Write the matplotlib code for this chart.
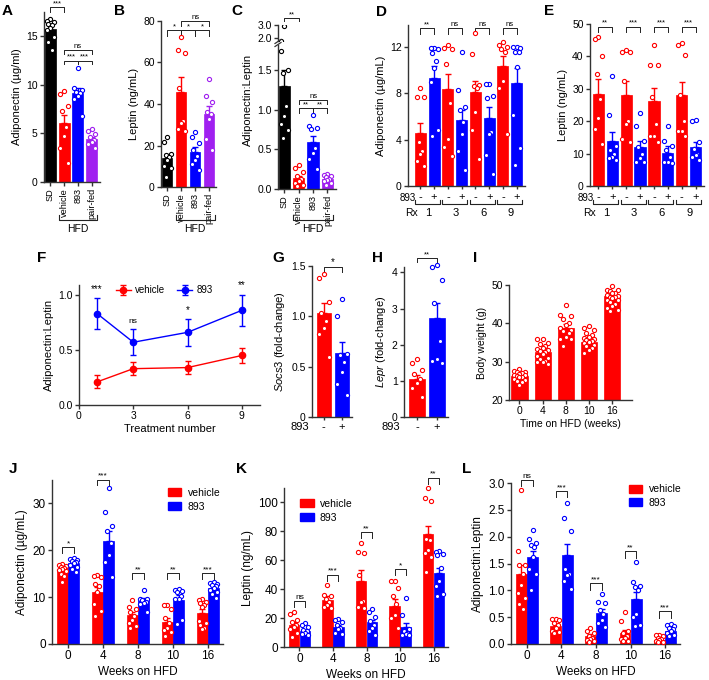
import numpy as np
import matplotlib
matplotlib.use("Agg")
import matplotlib.pyplot as plt
from matplotlib import transforms
from matplotlib.lines import Line2D
from matplotlib.patches import Patch

plt.rcParams['font.family'] = ['Liberation Sans', 'DejaVu Sans']
plt.rcParams['mathtext.fontset'] = 'custom'
plt.rcParams['mathtext.it'] = 'Liberation Sans:italic'
plt.rcParams['mathtext.rm'] = 'Liberation Sans'
plt.rcParams['axes.linewidth'] = 1.0

RED = '#ff0000'
BLUE = '#0000ff'
PURPLE = '#a020f0'
BLACK = '#000000'

# ---------------- data ----------------
# A-C: SD vs HFD groups
abc_groups = ['SD', 'vehicle', '893', 'pair-fed']
a_means = [15.8, 6.1, 9.2, 4.4]
a_sem = [0.35, 0.75, 0.5, 0.25]
a_pts = [[16.8, 16.6, 16.5, 16.3, 16.2, 15.9, 15.6, 14.9, 14.4, 13.6],
         [9.4, 9.1, 7.8, 7.3, 5.7, 4.7, 3.5, 2.0],
         [11.7, 9.7, 9.5, 9.3, 9.2, 8.9, 8.5, 6.8],
         [5.5, 5.2, 4.9, 4.6, 4.3, 4.1, 3.9, 3.5]]

b_means = [14.2, 46.0, 17.0, 35.2]
b_sem = [1.8, 7.0, 2.3, 4.0]
b_pts = [[24, 21.5, 16, 15.5, 14.5, 13, 10, 9, 5],
         [72.5, 66, 64.5, 47.5, 32, 31, 28, 27],
         [26.5, 24, 21, 18, 15, 13, 11, 8],
         [52, 44, 41, 36, 35, 33, 23, 18]]

c_means = [1.30, 0.14, 0.59, 0.13]
c_sem = [0.21, 0.03, 0.08, 0.02]
c_pts = [[2.95, 1.74, 1.50, 1.47, 1.05, 0.92, 0.82, 0.75, 0.64],
         [0.30, 0.26, 0.21, 0.17, 0.13, 0.10, 0.07, 0.05, 0.04],
         [0.93, 0.79, 0.77, 0.76, 0.52, 0.46, 0.38, 0.25],
         [0.19, 0.18, 0.17, 0.15, 0.13, 0.11, 0.10, 0.07, 0.05]]

# D-E: by treatment number (Rx), 893 - / +
rx_labels = ['1', '3', '6', '9']
d_veh = [4.6, 8.4, 8.1, 10.4]
d_veh_sem = [0.8, 1.3, 1.0, 0.8]
d_893 = [9.3, 5.7, 5.9, 8.9]
d_893_sem = [1.1, 0.9, 0.9, 1.3]
d_veh_pts = [[8.5, 7.7, 7.7, 3.8, 3.0, 2.8, 2.2, 1.7],
             [12.2, 11.9, 11.8, 10.5, 7.2, 4.1, 3.4, 2.6],
             [13.2, 11.4, 8.7, 8.6, 8.5, 6.4, 4.8, 2.3],
             [12.4, 12.2, 12.0, 11.8, 11.6, 9.1, 8.5, 4.5]]
d_893_pts = [[11.9, 11.9, 11.8, 11.5, 10.8, 10.2, 9.0, 4.8, 4.3],
             [11.6, 8.3, 6.8, 6.6, 5.5, 4.5, 3.0, 1.4],
             [8.8, 8.8, 7.8, 7.6, 4.7, 4.5, 2.7, 1.0],
             [12.0, 12.0, 11.9, 11.6, 11.6, 10.3, 6.1, 3.3, 1.8]]

e_veh = [28.5, 28.0, 26.3, 28.0]
e_veh_sem = [4.5, 4.3, 4.0, 4.0]
e_893 = [13.8, 12.0, 10.2, 12.0]
e_893_sem = [3.0, 2.0, 2.2, 1.5]
e_veh_pts = [[46, 45.5, 40, 34.5, 27, 21, 17.5, 13],
             [41.5, 41.5, 42, 32.5, 20, 19, 14.5, 13.5],
             [43.5, 37.5, 37.5, 27.5, 19, 15.5, 15.5, 13.5],
             [44, 43.5, 40.5, 28, 20, 17, 15.5, 17]]
e_893_pts = [[34, 22, 12.5, 11, 10, 9, 8.5, 8],
             [22.5, 18.5, 14, 12, 10, 8.5, 7.5, 7.5],
             [18.5, 14, 12.5, 11, 9, 7.5, 7, 7.5],
             [20.5, 20, 13.5, 11.5, 10, 9, 8, 9.5]]
d_sig = ['**', 'ns', 'ns', 'ns']
e_sig = ['**', '***', '***', '***']

# F: ratio over treatments
f_treat = [1, 3, 6, 9]
f_veh = [0.21, 0.33, 0.34, 0.45]
f_veh_sem = [0.06, 0.06, 0.06, 0.07]
f_893 = [0.83, 0.57, 0.66, 0.86]
f_893_sem = [0.14, 0.12, 0.12, 0.14]
f_sig = ['***', 'ns', '*', '**']

# G, H: qPCR
g_means = [1.03, 0.64]
g_sem = [0.1, 0.11]
g_pts = [[1.42, 1.38, 1.14, 1.03, 0.95, 0.88, 0.82, 0.6],
         [1.17, 1.0, 0.63, 0.62, 0.55, 0.45, 0.33, 0.22]]
h_means = [1.05, 2.75]
h_sem = [0.12, 0.4]
h_pts = [[1.6, 1.5, 1.3, 1.2, 1.05, 0.95, 0.8, 0.55],
         [4.2, 4.15, 3.8, 3.15, 2.1, 1.6, 1.55, 1.5]]

# I: body weight
weeks = ['0', '4', '8', '10', '16']
i_means = [26.3, 32.5, 38.8, 35.2, 47.1]
i_sem = [0.3, 0.5, 0.9, 0.5, 0.5]
i_pts = [[28.0, 27.6, 27.4, 27.2, 27.0, 26.8, 26.6, 26.5, 26.3, 26.1, 25.9, 25.6, 25.3, 25.0, 24.6, 23.8],
         [36.0, 35.8, 35.0, 34.5, 34.0, 33.6, 33.2, 33.0, 32.8, 32.5, 32.0, 31.5, 31.0, 30.6, 30.2, 30.0, 29.8, 29.4],
         [44.8, 42.2, 42.0, 41.2, 40.0, 39.5, 38.8, 38.2, 38.0, 37.5, 36.5, 36.0, 35.8, 34.0],
         [39.2, 38.8, 38.2, 37.6, 37.0, 36.5, 36.2, 36.0, 35.6, 35.5, 35.2, 34.8, 34.4, 34.0, 33.5, 33.0, 32.2],
         [49.8, 48.8, 48.6, 48.5, 48.0, 47.8, 47.5, 47.2, 47.0, 46.8, 46.5, 46.2, 46.0, 45.5, 45.0, 44.5, 44.0, 43.5, 43.2]]

# J: adiponectin by weeks on HFD
j_veh = [15.8, 11.0, 6.1, 4.6, 6.7]
j_veh_sem = [0.5, 1.2, 0.8, 0.9, 0.8]
j_893 = [17.2, 22.0, 9.3, 9.4, 12.0]
j_893_sem = [0.4, 2.1, 0.6, 1.0, 0.5]
j_veh_pts = [[17.0, 16.8, 16.6, 16.5, 16.3, 16.0, 15.8, 15.5, 15.0, 14.5, 13.2],
             [14.8, 14.5, 14.2, 12.8, 12.3, 11.0, 8.5, 7.0, 6.0],
             [9.3, 8.0, 7.5, 6.8, 5.9, 5.2, 4.5, 3.8, 3.5],
             [8.4, 8.3, 7.5, 5.5, 4.5, 3.5, 3.0, 2.5, 1.8],
             [9.6, 9.4, 9.0, 8.7, 8.3, 7.8, 5.0, 4.5, 4.0, 3.5, 3.2]]
j_893_pts = [[18.4, 18.2, 18.0, 17.8, 17.5, 17.2, 16.8, 16.5, 16.0, 15.3],
             [33.2, 28.1, 25.2, 24.2, 21.5, 19.0, 17.5, 14.3],
             [11.6, 9.7, 9.5, 9.3, 9.0, 8.8, 8.5, 6.8],
             [11.7, 11.6, 11.4, 11.2, 10.2, 9.6, 9.5, 5.2, 4.3],
             [13.2, 13.0, 12.8, 12.5, 12.3, 12.0, 11.5, 11.0, 10.6, 9.8]]
j_sig = ['*', '***', '**', '**', '***']
j_sig_y = [20.6, 35.1, 15.1, 15.1, 15.1]

# K: leptin by weeks on HFD
k_veh = [15.0, 32.5, 46.0, 28.5, 78.0]
k_veh_sem = [2.5, 2.5, 7.0, 5.0, 6.0]
k_893 = [11.0, 14.0, 17.0, 13.5, 51.0]
k_893_sem = [1.0, 1.5, 2.0, 3.0, 4.0]
k_veh_pts = [[24, 22.5, 19, 17, 15.5, 14, 12.5, 9.5, 7],
             [43, 36, 35, 33, 31, 29, 28, 27],
             [72, 66, 65, 50, 31.5, 31, 28, 27],
             [45.5, 45.5, 40.5, 35, 30, 22, 20, 13],
             [110, 103, 101, 75, 74, 67, 65, 62, 52]]
k_893_pts = [[16.5, 15, 14, 12, 11, 10, 9, 8],
             [19.5, 18.5, 17, 15, 13, 12.5, 10, 9],
             [26.5, 24, 21, 18, 15, 13, 11, 8.5],
             [34, 22, 12.5, 11, 10, 9, 8.5, 8],
             [66.5, 65.5, 64.5, 63.5, 55, 46, 42, 37, 35]]
k_sig = ['ns', '***', '**', '*', '**']
k_sig_y = [31.9, 50.0, 79.5, 54.0, 117.0]

# L: ratio by weeks on HFD
l_veh = [1.30, 0.33, 0.14, 0.20, 0.08]
l_veh_sem = [0.18, 0.05, 0.04, 0.06, 0.02]
l_893 = [1.62, 1.65, 0.58, 0.83, 0.25]
l_893_sem = [0.12, 0.22, 0.07, 0.13, 0.03]
l_veh_pts = [[2.87, 1.73, 1.48, 1.47, 1.3, 1.1, 0.95, 0.85, 0.75, 0.65],
             [0.47, 0.46, 0.45, 0.4, 0.35, 0.3, 0.25, 0.22, 0.2],
             [0.3, 0.25, 0.2, 0.15, 0.12, 0.1, 0.08, 0.05, 0.04],
             [0.6, 0.43, 0.25, 0.2, 0.15, 0.12, 0.1, 0.06, 0.05],
             [0.17, 0.16, 0.15, 0.12, 0.1, 0.08, 0.06, 0.04, 0.03]]
l_893_pts = [[2.13, 1.95, 1.88, 1.85, 1.8, 1.63, 1.4, 1.3, 1.0],
             [2.63, 2.35, 2.1, 1.4, 1.3, 1.28, 1.18, 1.03],
             [0.93, 0.78, 0.77, 0.64, 0.55, 0.45, 0.4, 0.32],
             [1.53, 1.16, 1.08, 1.06, 1.0, 0.55, 0.5, 0.35, 0.33],
             [0.38, 0.36, 0.34, 0.3, 0.28, 0.24, 0.2, 0.16, 0.14]]
l_sig = ['ns', '***', '***', '**', '***']
l_sig_y = [3.06, 2.85, 1.13, 1.73, 0.61]

# ---------------- helpers ----------------
W, H = 709, 680
fig = plt.figure(figsize=(W / 100, H / 100), dpi=100)

JIT = np.array([0, -1, 1, -0.5, 0.5, 0, -1, 1, -0.5, 0.5, 0, -1, 1, -0.5, 0.5, 0, -1, 1, -0.5, 0.5])


def fy(ypx):
    return 1 - ypx / H


def add_ax(l, t, r, b, fs=7.5):
    ax = fig.add_axes([l / W, 1 - b / H, (r - l) / W, (b - t) / H])
    ax.spines['top'].set_visible(False)
    ax.spines['right'].set_visible(False)
    ax.spines['left'].set_color('#333333')
    ax.spines['bottom'].set_color('#333333')
    ax.tick_params(length=3, width=1, pad=1.5, labelsize=fs, color='#333333')
    return ax


def bar_pts(ax, x, mean, err, pts, color, width, clip=False):
    ax.bar(x, mean, width, color=color, edgecolor=color, linewidth=0.5, zorder=1)
    ax.errorbar(x, mean, yerr=[[0], [err]], fmt='none', ecolor=color,
                elinewidth=1, capsize=2.3, capthick=1, zorder=2)
    pts = np.sort(np.array(pts, dtype=float))[::-1]
    offs = JIT[:len(pts)] * width * 0.33
    ax.scatter(x + offs, pts, s=9, facecolor='white', edgecolor=color,
               linewidth=0.8, zorder=3, clip_on=clip)


def bracket(ax, x1, x2, y, h, label, fs=5.5, pad=0.0):
    ax.plot([x1, x1, x2, x2], [y - h, y, y, y - h], color='#222222', lw=0.7,
            clip_on=False)
    ax.text((x1 + x2) / 2, y + pad, label, ha='center', va='bottom',
            fontsize=fs, clip_on=False)


def letter(xpx, ypx, s):
    fig.text(xpx / W, fy(ypx), s, fontsize=11, fontweight='bold', va='top', ha='left')


def hfd_bracket(ax, x1, x2):
    tr = transforms.blended_transform_factory(ax.transData, fig.transFigure)
    ax.add_line(Line2D([x1, x1, x2, x2], [fy(215), fy(220), fy(220), fy(215)],
                       transform=tr, color='#222222', lw=0.8, clip_on=False))
    ax.text((x1 + x2) / 2, fy(229), 'HFD', transform=tr, ha='center', va='center',
            fontsize=7.5)


abc_colors = [BLACK, RED, BLUE, PURPLE]
xs4 = np.arange(4)

# ---------------- A ----------------
axA = add_ax(44, 12, 100, 182)
for i in range(4):
    bar_pts(axA, xs4[i], a_means[i], a_sem[i], a_pts[i], abc_colors[i], 0.8)
axA.set_xlim(-0.45, 3.6)
axA.set_ylim(0, 17.5)
axA.set_yticks([0, 5, 10, 15])
axA.set_xticks(xs4)
axA.set_xticklabels(abc_groups, rotation=90, fontsize=6.6)
axA.set_ylabel('Adiponectin (µg/ml)', fontsize=8, labelpad=3)
bracket(axA, 0, 1, 18.0, 0.5, '***')
bracket(axA, 1, 3, 13.6, 0.4, 'ns')
bracket(axA, 1, 2, 12.5, 0.4, '***')
bracket(axA, 2, 3, 12.5, 0.4, '***')
hfd_bracket(axA, 0.6, 3.4)

# ---------------- B ----------------
axB = add_ax(161, 21, 216, 187)
for i in range(4):
    bar_pts(axB, xs4[i], b_means[i], b_sem[i], b_pts[i], abc_colors[i], 0.75)
axB.set_xlim(-0.45, 3.5)
axB.set_ylim(0, 80)
axB.set_yticks([0, 20, 40, 60, 80])
axB.set_xticks(xs4)
axB.set_xticklabels(abc_groups, rotation=90, fontsize=6.6)
axB.set_ylabel('Leptin (ng/mL)', fontsize=8, labelpad=3)
bracket(axB, 0, 1, 75.5, 2.5, '*')
bracket(axB, 1, 2, 75.5, 2.5, '*')
bracket(axB, 2, 3, 75.5, 2.5, '*')
bracket(axB, 1, 3, 80, 2.5, 'ns')
hfd_bracket(axB, 0.6, 3.4)

# ---------------- C (broken axis) ----------------
axC = add_ax(278, 45, 336, 189)
axC2 = add_ax(278, 25, 336, 41)
for i in range(4):
    bar_pts(axC, xs4[i], c_means[i], c_sem[i], c_pts[i], abc_colors[i], 0.8, clip=True)
    bar_pts(axC2, xs4[i], c_means[i], c_sem[i], c_pts[i], abc_colors[i], 0.8, clip=True)
for ax in (axC, axC2):
    ax.set_xlim(-0.45, 3.6)
axC.set_ylim(0, 1.82)
axC.set_yticks([0.0, 0.5, 1.0, 1.5])
axC.set_yticklabels(['0.0', '0.5', '1.0', '1.5'])
axC2.set_ylim(1.77, 3.0)
axC2.set_yticks([2.0, 3.0])
axC2.set_yticklabels(['2.0', '3.0'])
axC2.spines['bottom'].set_visible(False)
axC2.set_xticks([])
axC.set_xticks(xs4)
axC.set_xticklabels(abc_groups, rotation=90, fontsize=6.6)
axC.set_ylabel('Adiponectin:Leptin', fontsize=8, labelpad=3, y=0.62)
# break marks
for yb in (41.5, 44.5):
    fig.add_artist(Line2D([275 / W, 281 / W], [fy(yb + 2), fy(yb - 2)], color='#333333', lw=0.9))
bracket(axC2, 0, 1, 3.52, 0.25, '**')
bracket(axC, 1, 3, 1.13, 0.06, 'ns')
bracket(axC, 1, 2, 1.02, 0.06, '**')
bracket(axC, 2, 3, 1.02, 0.06, '**')
hfd_bracket(axC, 0.6, 3.4)


# ---------------- D, E ----------------
def rx_panel(ax, veh, veh_sem, drug, drug_sem, veh_pts, drug_pts, sig, sig_y, sig_h):
    pos = np.arange(8)
    for k in range(4):
        bar_pts(ax, pos[2 * k], veh[k], veh_sem[k], veh_pts[k], RED, 0.8)
        bar_pts(ax, pos[2 * k + 1], drug[k], drug_sem[k], drug_pts[k], BLUE, 0.8)
        bracket(ax, pos[2 * k], pos[2 * k + 1], sig_y, sig_h, sig[k])
    ax.set_xticks(pos)
    ax.set_xticklabels(['-', '+'] * 4, fontsize=8)
    ax.tick_params(axis='x', length=2, pad=2.5)
    tr = transforms.blended_transform_factory(ax.transData, fig.transFigure)
    for k in range(4):
        x1, x2 = pos[2 * k] - 0.4, pos[2 * k + 1] + 0.4
        ax.add_line(Line2D([x1, x1, x2, x2], [fy(200), fy(204), fy(204), fy(200)],
                           transform=tr, color='#222222', lw=0.8, clip_on=False))
        ax.text((pos[2 * k] + pos[2 * k + 1]) / 2 + 0.05, fy(213), rx_labels[k],
                transform=tr, ha='center', va='center', fontsize=8)
    ax.text(-0.35, fy(197.5), '893', transform=tr, ha='right', va='center', fontsize=7)
    ax.text(-0.15, fy(213), 'Rx', transform=tr, ha='right', va='center', fontsize=7.5)


axD = add_ax(408, 25, 525, 186)
rx_panel(axD, d_veh, d_veh_sem, d_893, d_893_sem, d_veh_pts, d_893_pts, d_sig, 13.6, 0.5)
axD.set_xlim(-0.9, 7.6)
axD.set_ylim(0, 13.9)
axD.set_yticks([0, 4, 8, 12])
axD.set_ylabel('Adiponectin (µg/mL)', fontsize=8, labelpad=3)
letter(376, 5, 'D')

axE = add_ax(590, 24, 704, 186)
rx_panel(axE, e_veh, e_veh_sem, e_893, e_893_sem, e_veh_pts, e_893_pts, e_sig, 49.2, 1.8)
axE.set_xlim(-0.6, 7.6)
axE.set_ylim(0, 50)
axE.set_yticks([0, 10, 20, 30, 40, 50])
axE.set_ylabel('Leptin (ng/mL)', fontsize=8, labelpad=3)

# ---------------- F ----------------
axF = add_ax(79, 285, 260, 405)
axF.errorbar(f_treat, f_veh, yerr=f_veh_sem, color=RED, marker='o', ms=4.5, lw=1,
             elinewidth=1, capsize=2.5, capthick=1, label='vehicle')
axF.errorbar(f_treat, f_893, yerr=f_893_sem, color=BLUE, marker='o', ms=4.5, lw=1,
             elinewidth=1, capsize=2.5, capthick=1, label='893')
for x, y, e, s in zip(f_treat, f_893, f_893_sem, f_sig):
    axF.text(x, y + e + 0.04, s, ha='center', va='bottom', fontsize=6 if s == 'ns' else 7)
axF.set_xlim(0, 10)
axF.set_ylim(0, 1.09)
axF.set_xticks([0, 3, 6, 9])
axF.set_yticks([0.0, 0.5, 1.0])
axF.set_yticklabels(['0.0', '0.5', '1.0'])
axF.set_xlabel('Treatment number', fontsize=8, labelpad=2)
axF.set_ylabel('Adiponectin:Leptin', fontsize=8, labelpad=3)
axF.legend(loc='upper center', bbox_to_anchor=(0.47, 1.07), ncol=2, frameon=False,
           fontsize=7, handlelength=1.6, columnspacing=1.2, handletextpad=0.4)


# ---------------- G, H ----------------
def pm_panel(ax, means, sem, pts):
    bar_pts(ax, 0, means[0], sem[0], pts[0], RED, 0.8)
    bar_pts(ax, 1, means[1], sem[1], pts[1], BLUE, 0.8)
    ax.set_xlim(-0.65, 1.55)
    ax.set_xticks([0, 1])
    ax.set_xticklabels(['-', '+'], fontsize=8)
    ax.tick_params(axis='x', length=2)
    tra = transforms.blended_transform_factory(ax.transAxes, fig.transFigure)
    ax.text(-0.08, fy(427), '893', transform=tra, ha='right', va='center', fontsize=8)


axG = add_ax(312, 266, 352, 417)
pm_panel(axG, g_means, g_sem, g_pts)
axG.set_ylim(0, 1.5)
axG.set_yticks([0, 0.5, 1.0, 1.5])
axG.set_yticklabels(['0', '0.5', '1.0', '1.5'])
axG.set_ylabel(r'$\mathit{Socs3}$ (fold-change)', fontsize=8, labelpad=3)
bracket(axG, 0, 1, 1.49, 0.05, '*', fs=7)

axH = add_ax(404, 267, 448, 417)
pm_panel(axH, h_means, h_sem, h_pts)
axH.set_ylim(0, 4.15)
axH.set_yticks([0, 1, 2, 3, 4])
axH.set_ylabel(r'$\mathit{Lepr}$ (fold-change)', fontsize=8, labelpad=3)
bracket(axH, 0, 1, 4.4, 0.12, '**')

# ---------------- I ----------------
axI = add_ax(509, 285, 632, 400)
ipos = np.arange(5)
for k in range(5):
    bar_pts(axI, ipos[k], i_means[k], i_sem[k], i_pts[k], RED, 0.7)
axI.set_xlim(-0.45, 4.85)
axI.set_ylim(20, 50)
axI.set_yticks([20, 30, 40, 50])
axI.set_xticks(ipos)
axI.set_xticklabels(weeks)
axI.set_ylabel('Body weight (g)', fontsize=7.5, labelpad=3)
axI.set_xlabel('Time on HFD (weeks)', fontsize=7.5, labelpad=2)


# ---------------- J, K, L ----------------
def weeks_panel(ax, veh, veh_sem, drug, drug_sem, veh_pts, drug_pts, sig, sig_y, sig_h):
    pos = np.arange(5)
    for k in range(5):
        bar_pts(ax, pos[k] - 0.165, veh[k], veh_sem[k], veh_pts[k], RED, 0.31)
        bar_pts(ax, pos[k] + 0.165, drug[k], drug_sem[k], drug_pts[k], BLUE, 0.31)
        bracket(ax, pos[k] - 0.165, pos[k] + 0.165, sig_y[k], sig_h, sig[k], fs=6)
    ax.set_xlim(-0.46, 4.43)
    ax.set_xticks(pos)
    ax.set_xticklabels(weeks)
    ax.set_xlabel('Weeks on HFD', fontsize=8.5, labelpad=3)


leg_handles = [Patch(facecolor=RED, edgecolor=RED, label='vehicle'),
               Patch(facecolor=BLUE, edgecolor=BLUE, label='893')]
leg_kw = dict(frameon=False, fontsize=7.5, handlelength=1.3, handleheight=0.8,
              handletextpad=0.6, labelspacing=0.35, borderaxespad=0.2)

axJ = add_ax(52, 480, 223, 644, fs=8.5)
weeks_panel(axJ, j_veh, j_veh_sem, j_893, j_893_sem, j_veh_pts, j_893_pts, j_sig, j_sig_y, 1.2)
axJ.set_ylim(0, 35)
axJ.set_yticks([0, 10, 20, 30])
axJ.set_ylabel('Adiponectin (µg/mL)', fontsize=8.5, labelpad=3)
axJ.legend(handles=leg_handles, loc='upper left', bbox_to_anchor=(0.64, 0.99), **leg_kw)

axK = add_ax(284, 488, 448, 647, fs=8.5)
weeks_panel(axK, k_veh, k_veh_sem, k_893, k_893_sem, k_veh_pts, k_893_pts, k_sig, k_sig_y, 4)
axK.set_ylim(0, 110)
axK.set_yticks([0, 20, 40, 60, 80, 100])
axK.set_ylabel('Leptin (ng/mL)', fontsize=8.5, labelpad=3)
axK.legend(handles=leg_handles, loc='upper left', bbox_to_anchor=(0.06, 0.97), **leg_kw)

axL = add_ax(511, 483, 680, 644, fs=8.5)
weeks_panel(axL, l_veh, l_veh_sem, l_893, l_893_sem, l_veh_pts, l_893_pts, l_sig, l_sig_y, 0.12)
axL.set_ylim(0, 3.0)
axL.set_yticks([0, 0.5, 1.0, 1.5, 2.0, 2.5, 3.0])
axL.set_yticklabels(['0.0', '0.5', '1.0', '1.5', '2.0', '2.5', '3.0'])
axL.set_ylabel('Adiponectin:Leptin', fontsize=8.5, labelpad=3)
axL.legend(handles=leg_handles, loc='upper left', bbox_to_anchor=(0.66, 1.03), **leg_kw)

# ---------------- panel letters ----------------
letter(2, 4, 'A')
letter(114, 4, 'B')
letter(231, 4, 'C')
letter(544, 4, 'E')
letter(37, 251, 'F')
letter(272, 251, 'G')
letter(372, 251, 'H')
letter(473, 251, 'I')
letter(9, 462, 'J')
letter(236, 462, 'K')
letter(462, 462, 'L')

fig.savefig('out.png', dpi=100, facecolor='white')
